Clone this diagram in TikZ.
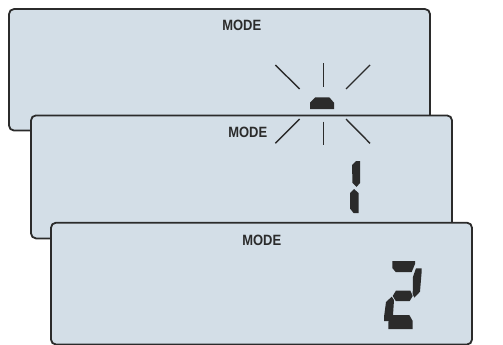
\documentclass[tikz,border=0pt]{standalone}
\usepackage{fontspec}
\usepackage{xcolor}
\usepackage{tikz}
\newfontfamily\lcdfont[FakeStretch=0.87]{Liberation Sans}
\definecolor{lcdbg}{HTML}{D3DEE7}
\definecolor{ink}{HTML}{2B2B2B}

\begin{document}
\begin{tikzpicture}[
        x=1pt, y=-1pt,
        lcd/.style={draw=ink, fill=lcdbg, line width=1.8pt, rounded corners=5pt,
                    inner sep=0pt, outer sep=0pt, minimum width=421pt},
        label/.style={font=\lcdfont\bfseries\fontsize{14.9}{15}\selectfont, text=ink,
                      anchor=base, inner sep=0pt},
        seg/.style={fill=ink, draw=none},
        ray/.style={draw=ink, line width=1.4pt}
    ]
    \useasboundingbox (0,0) rectangle (503,345);

    % ---- Display 1: blinking dash ----
    \node[lcd, minimum height=121.5pt] (lcdA) at (219.5,69.8) {};
    \node[label] (modeA) at (241.7,31) {MODE};
    \fill[seg] (310,109) -- (310,102.7) -- (315.3,97.3) -- (329.3,97.3) -- (334,102.7) -- (334,109) -- cycle;

    % ---- Display 2: digit 1 ----
    \node[lcd, minimum height=123pt] (lcdB) at (241.5,176.9) {};
    \node[label] (modeB) at (247.7,137.3) {MODE};
    \fill[seg] (352,165) -- (356,161) -- (360,161) -- (360,183) -- (356.5,187) -- (352.5,183) -- cycle;
    \fill[seg] (354,189) -- (358.5,193) -- (358.5,213) -- (353.5,213) -- (350,208.5) -- (350,193) -- cycle;

    % blink rays round the dash
    \draw[ray] (323.7,63.3)  -- (323.7,86.7);
    \draw[ray] (323.7,121.7) -- (323.7,145);
    \draw[ray] (275.3,65)    -- (299.7,89);
    \draw[ray] (346,89)      -- (370,65);
    \draw[ray] (275.3,143.3) -- (299.7,119);
    \draw[ray] (346,119)     -- (370,143.3);

    % ---- Display 3: digit 2 ----
    \node[lcd, minimum height=121.8pt] (lcdC) at (261.5,283.6) {};
    \node[label] (modeC) at (261.7,245.5) {MODE};
    \fill[seg] (392.3,261) -- (415,261) -- (415,264) -- (411.7,272) -- (395.7,272) -- (392.3,268) -- cycle;
    \fill[seg] (416,268.3) -- (421.7,268.3) -- (421.7,271) -- (420,291.7) -- (414.3,297.7) -- (412.7,294) -- (413,276.7) -- cycle;
    \fill[seg] (392.7,296) -- (396,290.5) -- (410.3,290.5) -- (412.7,296) -- (409.7,301) -- (395.7,301) -- cycle;
    \fill[seg] (391.7,296.7) -- (394,300) -- (393,315) -- (390,321) -- (384,321) -- (384,317) -- (386,302) -- cycle;
    \fill[seg] (392.3,315) -- (409.3,315) -- (412.7,321) -- (412.7,329) -- (388.3,329) -- (388.3,322) -- cycle;
\end{tikzpicture}
\end{document}
